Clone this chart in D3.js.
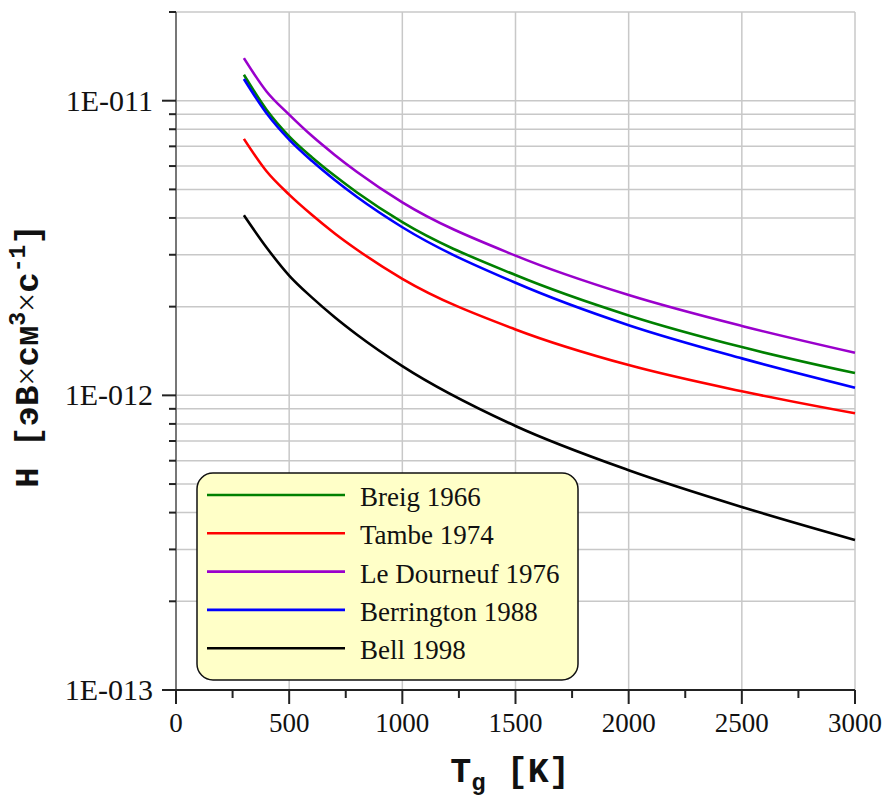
<!DOCTYPE html>
<html>
<head>
<meta charset="utf-8">
<script src="https://cdn.jsdelivr.net/npm/d3@7"></script>
<style>
  body { margin: 0; background: #fff; }
  svg { display: block; }
  .serif { font-family: "Liberation Serif", "Times New Roman", serif; }
  .mono { font-family: "Liberation Mono", "Courier New", monospace; font-weight: bold; }
</style>
</head>
<body>
<svg id="chart" width="890" height="801"></svg>
<script>
// temperatures (K) at which the curves were read
const temps = [300, 400, 500, 600, 700, 800, 1000, 1500, 2000, 2500, 3000];

// H values, eV*cm^3/s
const breig      = [1.225e-11, 9.32e-12, 7.57e-12, 6.43e-12, 5.57e-12, 4.88e-12, 3.87e-12, 2.56e-12, 1.867e-12, 1.458e-12, 1.19e-12];
const tambe      = [7.42e-12, 5.76e-12, 4.80e-12, 4.10e-12, 3.55e-12, 3.12e-12, 2.487e-12, 1.674e-12, 1.267e-12, 1.032e-12, 8.69e-13];
const leDourneuf = [1.395e-11, 1.075e-11, 8.97e-12, 7.60e-12, 6.56e-12, 5.73e-12, 4.52e-12, 2.98e-12, 2.19e-12, 1.72e-12, 1.395e-12];
const berrington = [1.185e-11, 9.07e-12, 7.38e-12, 6.25e-12, 5.39e-12, 4.71e-12, 3.72e-12, 2.41e-12, 1.73e-12, 1.335e-12, 1.062e-12];
const bell       = [4.086e-12, 3.176e-12, 2.55e-12, 2.15e-12, 1.845e-12, 1.606e-12, 1.257e-12, 7.87e-13, 5.57e-13, 4.18e-13, 3.23e-13];

const seriesNames  = ["Breig 1966", "Tambe 1974", "Le Dourneuf 1976", "Berrington 1988", "Bell 1998"];
const seriesValues = [breig, tambe, leDourneuf, berrington, bell];
const seriesColors = ["#008000", "#ff0000", "#9a00cc", "#0000ff", "#000000"];

const xTicks = [0, 500, 1000, 1500, 2000, 2500, 3000];
const xMinorTicks = [250, 750, 1250, 1750, 2250, 2750];
const yMajorTicks = [1e-13, 1e-12, 1e-11];
const yMajorLabels = ["1E-013", "1E-012", "1E-011"];

const plotL = 176, plotR = 855, plotT = 12, plotB = 690;

const svg = d3.select("#chart");

const x = d3.scaleLinear().domain([0, 3000]).range([plotL, plotR]);
const y = d3.scaleLog().domain([1e-13, 2e-11]).range([plotB, plotT]);

// minor log ticks 2..9 per decade
const yMinorTicks = [];
[1e-13, 1e-12, 1e-11].forEach(d => {
  for (let k = 2; k <= 9; k++) {
    const v = k * d;
    if (v <= 2.0001e-11) yMinorTicks.push(v);
  }
});

const grid = svg.append("g").attr("stroke", "#c8c8c8").attr("stroke-width", 1.5);
grid.selectAll(".hg")
  .data(yMajorTicks.concat(yMinorTicks).filter(v => v > 1e-13))
  .join("line")
  .attr("x1", plotL).attr("x2", plotR)
  .attr("y1", d => y(d)).attr("y2", d => y(d));
grid.selectAll(".vg")
  .data(xTicks.filter(v => v > 0))
  .join("line")
  .attr("x1", d => x(d)).attr("x2", d => x(d))
  .attr("y1", plotT).attr("y2", plotB);

// curves
const line = d3.line()
  .x((d, i) => x(temps[i]))
  .y(d => y(d))
  .curve(d3.curveMonotoneX);

svg.append("g")
  .selectAll("path")
  .data(seriesValues)
  .join("path")
  .attr("fill", "none")
  .attr("stroke", (d, i) => seriesColors[i])
  .attr("stroke-width", 2.6)
  .attr("d", line);

// axes
const axes = svg.append("g");
axes.append("line")
  .attr("x1", plotL).attr("x2", plotL).attr("y1", plotT).attr("y2", plotB)
  .attr("stroke", "#777").attr("stroke-width", 2);
axes.append("line")
  .attr("x1", plotL).attr("x2", plotR).attr("y1", plotB).attr("y2", plotB)
  .attr("stroke", "#222").attr("stroke-width", 2);

axes.selectAll(".ymaj")
  .data(yMajorTicks)
  .join("line")
  .attr("x1", plotL - 14).attr("x2", plotL)
  .attr("y1", d => y(d)).attr("y2", d => y(d))
  .attr("stroke", "#222").attr("stroke-width", 2);
axes.selectAll(".ymin")
  .data(yMinorTicks)
  .join("line")
  .attr("x1", plotL - 7).attr("x2", plotL)
  .attr("y1", d => y(d)).attr("y2", d => y(d))
  .attr("stroke", "#222").attr("stroke-width", 2);

axes.selectAll(".xmaj")
  .data(xTicks)
  .join("line")
  .attr("x1", d => x(d)).attr("x2", d => x(d))
  .attr("y1", plotB).attr("y2", plotB + 14)
  .attr("stroke", "#222").attr("stroke-width", 2);
axes.selectAll(".xmin")
  .data(xMinorTicks)
  .join("line")
  .attr("x1", d => x(d)).attr("x2", d => x(d))
  .attr("y1", plotB).attr("y2", plotB + 8)
  .attr("stroke", "#222").attr("stroke-width", 2);

axes.selectAll(".ylab")
  .data(yMajorTicks)
  .join("text")
  .attr("class", "serif")
  .attr("x", plotL - 23)
  .attr("y", d => y(d) + 10)
  .attr("text-anchor", "end")
  .attr("font-size", 30)
  .attr("fill", "#111")
  .text((d, i) => yMajorLabels[i]);

axes.selectAll(".xlab")
  .data(xTicks)
  .join("text")
  .attr("class", "serif")
  .attr("x", d => x(d))
  .attr("y", plotB + 42)
  .attr("text-anchor", "middle")
  .attr("font-size", 27)
  .attr("fill", "#111")
  .text(d => d);

// axis titles
const xt = svg.append("text")
  .attr("class", "mono")
  .attr("x", 510).attr("y", 782)
  .attr("text-anchor", "middle")
  .attr("font-size", 35)
  .attr("fill", "#111");
xt.append("tspan").text("T");
xt.append("tspan").attr("dy", 8).attr("font-size", 24).text("g");
xt.append("tspan").attr("dy", -8).text(" [K]");

const yt = svg.append("text")
  .attr("class", "mono")
  .attr("transform", "translate(38,356) rotate(-90)")
  .attr("text-anchor", "middle")
  .attr("font-size", 34)
  .attr("fill", "#111");
yt.append("tspan").text("H [эВ");
yt.append("tspan").attr("class", "serif").attr("font-weight", "normal").text("×");
yt.append("tspan").text("см");
yt.append("tspan").attr("dy", -13).attr("font-size", 23).text("3");
yt.append("tspan").attr("dy", 13).attr("class", "serif").attr("font-weight", "normal").text("×");
yt.append("tspan").text("с");
yt.append("tspan").attr("dy", -13).attr("font-size", 23).text("-1");
yt.append("tspan").attr("dy", 13).text("]");

// legend
const legend = svg.append("g");
legend.append("rect")
  .attr("x", 197).attr("y", 473)
  .attr("width", 381).attr("height", 207)
  .attr("rx", 16).attr("ry", 16)
  .attr("fill", "#ffffc8")
  .attr("stroke", "#111").attr("stroke-width", 1.5);

const rows = legend.selectAll(".item")
  .data(seriesNames)
  .join("g")
  .attr("transform", (d, i) => `translate(0,${495 + i * 38.3})`);
rows.append("line")
  .attr("x1", 207).attr("x2", 345)
  .attr("stroke", (d, i) => seriesColors[i])
  .attr("stroke-width", 2.6);
rows.append("text")
  .attr("class", "serif")
  .attr("x", 360).attr("y", 11)
  .attr("font-size", 27)
  .attr("fill", "#111")
  .text(d => d);
</script>
</body>
</html>
